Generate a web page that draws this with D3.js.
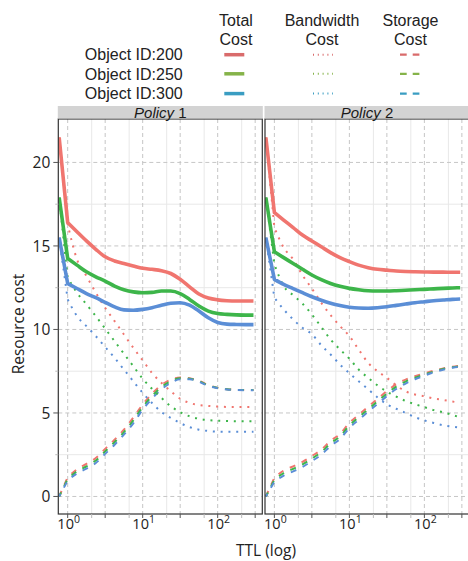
<!DOCTYPE html>
<html><head><meta charset="utf-8">
<script src="https://cdn.jsdelivr.net/npm/d3@7/dist/d3.min.js"></script>
<style>
html,body{margin:0;padding:0;background:#fff;}
svg{display:block;}
</style></head>
<body>
<svg id="chart" width="468" height="561"></svg>
<script>
// ---------------- DATA ----------------
const ttl = [0.77, 1, 1.33, 1.78, 2.37, 3.16, 4.22, 5.62, 7.5, 10, 13.3, 17.8, 23.7, 31.6, 42.2, 56.2, 75, 100, 133, 178, 237, 300];
const objectIds = ["Object ID:200", "Object ID:250", "Object ID:300"];
const policies = ["Policy 1", "Policy 2"];
const costTypes = ["Total\nCost", "Bandwidth\nCost", "Storage\nCost"];

// Policy 1
const p1Total200 = [21.5, 16.4, 15.85, 15.3, 14.8, 14.35, 14.1, 13.95, 13.8, 13.66, 13.6, 13.52, 13.35, 13.0, 12.55, 12.12, 11.88, 11.77, 11.72, 11.7, 11.7, 11.7];
const p1Total250 = [17.9, 14.25, 13.85, 13.45, 13.15, 12.9, 12.6, 12.38, 12.25, 12.2, 12.22, 12.3, 12.3, 12.15, 11.8, 11.4, 11.1, 10.95, 10.9, 10.87, 10.86, 10.86];
const p1Total300 = [15.5, 12.75, 12.45, 12.15, 11.9, 11.62, 11.35, 11.17, 11.15, 11.2, 11.3, 11.45, 11.57, 11.6, 11.45, 11.1, 10.7, 10.42, 10.32, 10.3, 10.29, 10.29];
const p1Band200 = [21.5, 16.3, 14.2, 13.2, 12.2, 11.3, 10.5, 9.7, 8.9, 8.15, 7.4, 6.8, 6.3, 5.85, 5.6, 5.48, 5.42, 5.38, 5.36, 5.35, 5.35, 5.35];
const p1Band250 = [17.9, 13.1, 12.2, 11.5, 10.8, 10.05, 9.3, 8.55, 7.8, 7.05, 6.45, 5.9, 5.4, 5.05, 4.8, 4.65, 4.57, 4.53, 4.52, 4.5, 4.5, 4.5];
const p1Band300 = [15.5, 11.8, 10.8, 10.2, 9.6, 8.95, 8.3, 7.6, 6.9, 6.2, 5.6, 5.05, 4.7, 4.4, 4.15, 4.0, 3.92, 3.88, 3.87, 3.87, 3.87, 3.87];
const p1Stor200 = [0.0, 1.15, 1.62, 1.95, 2.3, 2.85, 3.4, 4.0, 4.72, 5.5, 6.15, 6.68, 7.0, 7.12, 7.08, 6.92, 6.67, 6.5, 6.42, 6.38, 6.37, 6.37];
const p1Stor250 = [0.0, 1.05, 1.5, 1.8, 2.15, 2.7, 3.25, 3.85, 4.55, 5.35, 6.0, 6.55, 6.9, 7.08, 7.05, 6.9, 6.65, 6.5, 6.42, 6.38, 6.37, 6.37];
const p1Stor300 = [0.0, 0.95, 1.38, 1.66, 2.0, 2.55, 3.1, 3.7, 4.38, 5.2, 5.85, 6.42, 6.8, 7.02, 7.02, 6.87, 6.62, 6.48, 6.4, 6.37, 6.36, 6.36];

// Policy 2
const p2Total200 = [21.5, 17.0, 16.55, 16.1, 15.65, 15.3, 14.95, 14.6, 14.3, 14.06, 13.85, 13.7, 13.6, 13.55, 13.5, 13.47, 13.45, 13.44, 13.43, 13.43, 13.42, 13.42];
const p2Total250 = [17.9, 14.65, 14.3, 13.95, 13.6, 13.26, 12.98, 12.75, 12.58, 12.46, 12.38, 12.32, 12.3, 12.3, 12.32, 12.35, 12.38, 12.4, 12.43, 12.46, 12.48, 12.5];
const p2Total300 = [15.5, 13.0, 12.7, 12.45, 12.2, 11.96, 11.75, 11.57, 11.43, 11.33, 11.28, 11.27, 11.3, 11.36, 11.44, 11.52, 11.6, 11.66, 11.72, 11.76, 11.8, 11.82];
const p2Band200 = [21.5, 16.1, 14.9, 14.2, 13.25, 12.45, 11.6, 10.85, 10.2, 9.6, 8.8, 8.0, 7.5, 7.1, 6.65, 6.3, 6.1, 6.0, 5.87, 5.78, 5.68, 5.62];
const p2Band250 = [17.9, 13.9, 12.6, 12.05, 11.55, 10.9, 10.15, 9.4, 8.8, 8.25, 7.6, 7.1, 6.65, 6.28, 5.98, 5.72, 5.52, 5.35, 5.17, 5.04, 4.88, 4.73];
const p2Band300 = [15.5, 11.9, 11.2, 10.6, 10.1, 9.72, 9.05, 8.5, 7.9, 7.38, 6.9, 6.42, 5.93, 5.52, 5.25, 5.0, 4.75, 4.55, 4.4, 4.26, 4.18, 4.12];
const p2Stor200 = [0.0, 1.12, 1.55, 1.8, 2.07, 2.42, 2.8, 3.33, 3.74, 4.4, 4.89, 5.37, 5.84, 6.31, 6.72, 7.0, 7.2, 7.37, 7.53, 7.67, 7.77, 7.83];
const p2Stor250 = [0.0, 1.0, 1.4, 1.65, 1.92, 2.27, 2.65, 3.18, 3.59, 4.25, 4.74, 5.22, 5.69, 6.16, 6.58, 6.88, 7.11, 7.3, 7.48, 7.63, 7.74, 7.8];
const p2Stor300 = [0.0, 0.88, 1.25, 1.5, 1.77, 2.12, 2.5, 3.03, 3.44, 4.1, 4.59, 5.07, 5.54, 6.01, 6.44, 6.76, 7.02, 7.23, 7.43, 7.59, 7.71, 7.77];

const yTicks = [0, 5, 10, 15, 20];
const yMinor = [2.5, 7.5, 12.5, 17.5];
const xLabelTicks = [1, 10, 100];
const xLabelExp = ["0", "1", "2"];
const xMajorGrid = [1, 3.162, 10, 31.62, 100, 316.2];
const xMinorGrid = [2.09, 6.6, 20.9, 66, 209];

// ---------------- DRAWING ----------------
const lineColors = ["#F0756F", "#3DB54A", "#5B8ED6"];
const keyColors = ["#D96B6B", "#85B349", "#3A9DC2"];

const svg = d3.select("#chart");
const pTop = 119, pBottom = 514;
const panelX = [[58.3, 262.3], [265, 469]];

const y = d3.scaleLinear().domain([-1.05, 22.6]).range([pBottom, pTop]);

const panelData = [
  {total: [p1Total200, p1Total250, p1Total300], band: [p1Band200, p1Band250, p1Band300], stor: [p1Stor200, p1Stor250, p1Stor300]},
  {total: [p2Total200, p2Total250, p2Total300], band: [p2Band200, p2Band250, p2Band300], stor: [p2Stor200, p2Stor250, p2Stor300]}
];

const axisFont = "'Open Sans', 'Noto Sans', sans-serif";
const legFont = "'Liberation Sans', Arial, sans-serif";

panelData.forEach((pd, pi) => {
  const [x0, x1] = panelX[pi];
  const x = d3.scaleLog().domain([Math.pow(10, -0.125), Math.pow(10, 2.595)]).range([x0, x1]);
  const g = svg.append("g");
  const clipId = "clip" + pi;
  svg.append("clipPath").attr("id", clipId).append("rect")
    .attr("x", x0).attr("y", pTop).attr("width", x1 - x0).attr("height", pBottom - pTop);

  g.append("rect").attr("x", x0).attr("y", pTop).attr("width", x1 - x0).attr("height", pBottom - pTop).attr("fill", "#fff");

  // minor grid
  g.selectAll(".vmin").data(xMinorGrid).enter().append("line")
    .attr("x1", d => x(d)).attr("x2", d => x(d)).attr("y1", pTop).attr("y2", pBottom)
    .attr("stroke", "#e8e8e8").attr("stroke-width", 1);
  g.selectAll(".hmin").data(yMinor).enter().append("line")
    .attr("x1", x0).attr("x2", x1).attr("y1", d => y(d)).attr("y2", d => y(d))
    .attr("stroke", "#e8e8e8").attr("stroke-width", 1);
  // major grid (dashed)
  g.selectAll(".vmaj").data(xMajorGrid).enter().append("line")
    .attr("x1", d => x(d)).attr("x2", d => x(d)).attr("y1", pTop).attr("y2", pBottom)
    .attr("stroke", "#c6c6c6").attr("stroke-width", 1).attr("stroke-dasharray", "4,3");
  g.selectAll(".hmaj").data(yTicks).enter().append("line")
    .attr("x1", x0).attr("x2", x1).attr("y1", d => y(d)).attr("y2", d => y(d))
    .attr("stroke", "#c6c6c6").attr("stroke-width", 1).attr("stroke-dasharray", "4,3");

  // straight drop for the first step, smooth curve afterwards
  const lineLin = d3.line().x((d, i) => x(ttl[i])).y(d => y(d));
  const lineSmooth = d3.line().x(d => x(d[0])).y(d => y(d[1])).curve(d3.curveMonotoneX);
  const pathOf = s => {
    const head = lineLin(s.slice(0, 2));
    const tail = lineSmooth(s.map((v, i) => [ttl[i], v]).slice(1));
    return head + tail.replace(/^M/, "L");
  };
  const lg = g.append("g").attr("clip-path", `url(#${clipId})`);

  pd.stor.forEach((s, k) => {
    lg.append("path").attr("d", pathOf(s)).attr("fill", "none")
      .attr("stroke", lineColors[k]).attr("stroke-width", 2).attr("stroke-dasharray", "6,7")
      .attr("stroke-dashoffset", k * 1.5);
  });
  pd.band.forEach((s, k) => {
    lg.append("path").attr("d", pathOf(s)).attr("fill", "none")
      .attr("stroke", lineColors[k]).attr("stroke-width", 2).attr("stroke-dasharray", "2,5.8");
  });
  pd.total.forEach((s, k) => {
    lg.append("path").attr("d", pathOf(s)).attr("fill", "none")
      .attr("stroke", lineColors[k]).attr("stroke-width", 3.6).attr("stroke-linejoin", "round");
  });

  // panel border
  g.append("rect").attr("x", x0).attr("y", pTop).attr("width", x1 - x0).attr("height", pBottom - pTop)
    .attr("fill", "none").attr("stroke", "#333").attr("stroke-width", 1.2);

  // strip
  g.append("rect").attr("x", x0 - 0.5).attr("y", 106).attr("width", x1 - x0 + 1).attr("height", 12.5).attr("fill", "#d3d3d3");
  const st = g.append("text").attr("x", (x0 + x1) / 2).attr("y", 117.5).attr("text-anchor", "middle")
    .attr("font-family", legFont).attr("font-size", 15).attr("fill", "#1a1a1a");
  const parts = policies[pi].split(" ");
  st.append("tspan").attr("font-style", "italic").text(parts[0]);
  st.append("tspan").text(" " + parts[1]);

  // x axis ticks
  g.selectAll(".xt").data(xMajorGrid).enter().append("line")
    .attr("x1", d => x(d)).attr("x2", d => x(d)).attr("y1", pBottom).attr("y2", pBottom + 4)
    .attr("stroke", "#555").attr("stroke-width", 1);
  g.selectAll(".xtm").data(xMinorGrid).enter().append("line")
    .attr("x1", d => x(d)).attr("x2", d => x(d)).attr("y1", pBottom).attr("y2", pBottom + 4)
    .attr("stroke", "#bbb").attr("stroke-width", 1);
  xLabelTicks.forEach((v, i) => {
    const t = g.append("text").attr("x", x(v) + 1).attr("y", 529).attr("text-anchor", "middle")
      .attr("font-family", axisFont).attr("font-size", 14.5).attr("fill", "#222");
    t.append("tspan").text("10");
    t.append("tspan").attr("dy", -6).attr("font-size", 10.5).text(xLabelExp[i]);
  });

  if (pi === 0) {
    g.selectAll(".yt").data(yTicks).enter().append("line")
      .attr("x1", x0 - 5).attr("x2", x0).attr("y1", d => y(d)).attr("y2", d => y(d))
      .attr("stroke", "#555").attr("stroke-width", 1);
    g.selectAll(".ytm").data(yMinor).enter().append("line")
      .attr("x1", x0 - 3).attr("x2", x0).attr("y1", d => y(d)).attr("y2", d => y(d))
      .attr("stroke", "#bbb").attr("stroke-width", 1);
    g.selectAll(".ytl").data(yTicks).enter().append("text")
      .attr("x", x0 - 8).attr("y", d => y(d)).attr("dy", "0.36em").attr("text-anchor", "end")
      .attr("font-family", axisFont).attr("font-size", 15.5).attr("fill", "#222").text(d => d);
  }
});

// axis titles
svg.append("text").attr("x", 266).attr("y", 555.5).attr("text-anchor", "middle")
  .attr("font-family", axisFont).attr("font-size", 15.5).attr("fill", "#222").text("TTL (log)");
svg.append("text").attr("transform", "translate(24,324) rotate(-90)").attr("text-anchor", "middle")
  .attr("font-family", axisFont).attr("font-size", 15.5).attr("fill", "#222").text("Resource cost");

// legend
const colCenters = [236, 322, 410.5];
costTypes.forEach((c, i) => {
  const lines = c.split("\n");
  lines.forEach((l, j) => {
    svg.append("text").attr("x", colCenters[i]).attr("y", 26 + j * 19).attr("text-anchor", "middle")
      .attr("font-family", legFont).attr("font-size", 16).attr("fill", "#222").text(l);
  });
});
const rowY = [54.7, 73.8, 93.6];
objectIds.forEach((o, k) => {
  svg.append("text").attr("x", 182.7).attr("y", rowY[k]).attr("dy", "0.36em").attr("text-anchor", "end")
    .attr("font-family", legFont).attr("font-size", 16).attr("fill", "#222").text(o);
  svg.append("line").attr("x1", 224.3).attr("x2", 244.3).attr("y1", rowY[k]).attr("y2", rowY[k])
    .attr("stroke", keyColors[k]).attr("stroke-width", 3.5);
  svg.append("line").attr("x1", 313).attr("x2", 333).attr("y1", rowY[k]).attr("y2", rowY[k])
    .attr("stroke", keyColors[k]).attr("stroke-width", 2).attr("stroke-dasharray", "1,3.8");
  svg.append("line").attr("x1", 400).attr("x2", 419.4).attr("y1", rowY[k]).attr("y2", rowY[k])
    .attr("stroke", keyColors[k]).attr("stroke-width", 2.3).attr("stroke-dasharray", "6.7,6");
});
</script>
</body></html>
